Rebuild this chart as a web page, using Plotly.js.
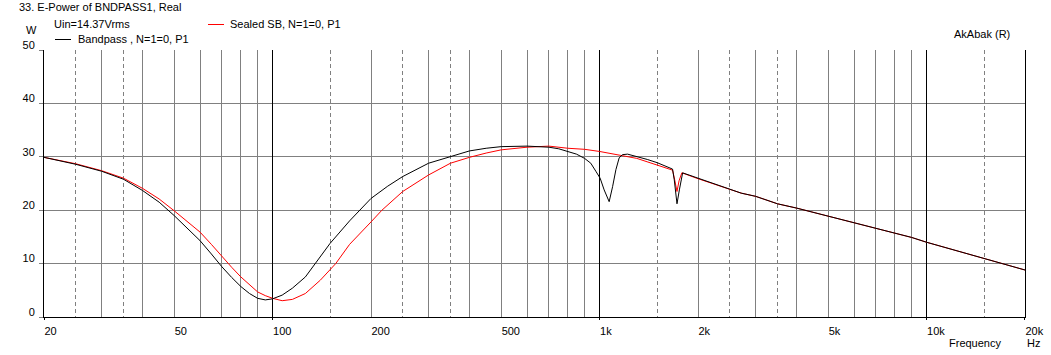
<!DOCTYPE html>
<html>
<head>
<meta charset="utf-8">
<script src="https://cdn.plot.ly/plotly-3.0.1.min.js"></script>
<style>html,body{margin:0;padding:0;background:#fff;}#chart{width:1051px;height:355px;}</style>
</head>
<body>
<div id="chart"></div>
<script>
// ---- data ----
const bandpassFreq = [20,25,30,35,40,45,50,55,60,65,70,75,80,85,90,95,100,107,115,126,135,150,172,200,225,250,300,350,400,450,500,600,700,750,800,850,900,940,974,1004,1033,1070,1096,1122,1148,1175,1218,1276,1400,1500,1600,1672,1692,1725,1754,1795,2000,2500,2710,3000,3500,4000,5000,6000,7000,8000,9000,10000,15000,20000];
const bandpassW    = [29.9,28.6,27.3,25.8,23.7,21.5,19.0,16.6,14.3,11.8,9.4,7.4,5.7,4.4,3.5,3.2,3.4,4.1,5.4,7.5,10.0,13.8,18.0,22.2,24.5,26.3,28.8,30.1,31.1,31.6,31.9,32.0,31.8,31.5,31.0,30.5,29.7,28.8,27.3,26.0,23.8,21.6,24.4,27.6,29.8,30.4,30.5,30.2,29.5,28.9,28.2,27.7,25.7,21.2,23.8,27.0,26.0,23.9,23.2,22.6,21.2,20.4,18.9,17.7,16.7,15.8,14.9,14.0,10.9,8.8];

const sealedFreq = [20,25,30,35,40,45,50,55,60,65,70,75,80,85,90,95,100,107,115,126,140,156,172,200,216,250,300,350,400,450,500,600,700,800,900,1000,1100,1200,1300,1500,1600,1672,1700,1725,1750,1785,2000,2500,2710,3000,3500,4000,5000,6000,7000,8000,9000,10000,15000,20000];
const sealedW    = [29.9,28.7,27.4,26.0,24.1,22.1,19.9,17.9,15.9,13.6,11.3,9.3,7.5,6.0,4.7,4.0,3.5,3.05,3.3,4.4,6.9,10.0,13.6,17.8,20.0,23.5,26.6,28.8,29.9,30.7,31.3,31.8,32.0,31.6,31.4,31.0,30.6,30.1,29.7,28.5,28.0,27.5,25.5,23.5,25.5,27.0,25.9,23.9,23.2,22.6,21.2,20.4,18.9,17.7,16.7,15.8,14.9,14.0,10.9,8.8];

const xLabelVals = [20,50,100,200,500,1000,2000,5000,10000,20000];
const xLabelText = ["20","50","100","200","500","1k","2k","5k","10k","20k"];
const gridMantissas = [1,2,3,4,5,6,7,8,9];
const dashedGrid = [25,35,150,250,350,1500,2500,3500,15000];
const decadeLines = [100,1000,10000];
const edgeTicks = [20,100,1000,10000,20000];
const yTicks = [0,10,20,30,40,50];

// ---- layout helpers ----
const W = 1051, H = 355;
const L = 44, R = 26, T = 50, B = 38;
const pw = W - L - R, ph = H - T - B;
const snap = p => Math.round(p - 0.5) + 0.5;
const px = x => (x - L) / pw;
const py = y => (H - B - y) / ph;
const xMin = Math.log10(20), xMax = Math.log10(20000);
const fx = f => {
  const p = L + (Math.log10(f) - xMin) / (xMax - xMin) * pw;
  return (Math.min(snap(p), L + pw - 0.5) - L) / pw;
};

// grid positions 20..20k
const gridVals = [];
[10,100,1000,10000].forEach(d => gridMantissas.forEach(m => {
  const v = m * d; if (v >= 20 && v <= 20000) gridVals.push(v);
}));
if (gridVals.indexOf(20000) < 0) gridVals.push(20000);
const gridText = gridVals.map(v => { const i = xLabelVals.indexOf(v); return i >= 0 ? xLabelText[i] : ""; });

const font = {family: "Liberation Sans, Arial, sans-serif", size: 11, color: "#000"};

const traces = [
  {x: [], y: [], type: "scatter", mode: "lines", xaxis: "x2", showlegend: false, hoverinfo: "skip"},
  {x: sealedFreq, y: sealedW, type: "scatter", mode: "lines", name: "Sealed SB, N=1=0, P1",
   line: {color: "#ff0000", width: 1}, showlegend: false, hoverinfo: "skip"},
  {x: bandpassFreq, y: bandpassW, type: "scatter", mode: "lines", name: "Bandpass , N=1=0, P1",
   line: {color: "#000000", width: 1}, showlegend: false, hoverinfo: "skip"}
];

// short black ticks below the axis at the decade lines and edges
const shapes = edgeTicks.map(v => ({
  type: "line", xref: "paper", yref: "paper", x0: fx(v), x1: fx(v),
  y0: -3 / ph, y1: 0, line: {color: "#000", width: 1}
}));
// legend samples
shapes.push({type: "line", xref: "paper", yref: "paper", x0: px(208), x1: px(224), y0: py(24.5), y1: py(24.5), line: {color: "#ff0000", width: 1}});
shapes.push({type: "line", xref: "paper", yref: "paper", x0: px(55), x1: px(71), y0: py(39.5), y1: py(39.5), line: {color: "#000", width: 1}});

function ann(text, x, y, anchor) {
  return {text: text, xref: "paper", yref: "paper", x: px(x), y: py(y), xanchor: anchor || "left", yanchor: "middle",
          showarrow: false, font: font, borderpad: 0};
}
const annotations = [
  ann("Uin=14.37Vrms", 53, 24),
  ann("W", 31, 30, "center"),
  ann("Sealed SB, N=1=0, P1", 229, 24),
  ann("Bandpass , N=1=0, P1", 77, 39),
  ann("AkAbak (R)", 953, 34),
  ann("Frequency", 948, 343),
  ann("Hz", 1026, 343)
];

const layout = {
  width: W, height: H,
  margin: {l: L, r: R, t: T, b: B, pad: 0},
  paper_bgcolor: "#fff", plot_bgcolor: "#fff",
  font: font,
  showlegend: false,
  title: {text: "33. E-Power of BNDPASS1, Real", font: font, x: 19 / W, xanchor: "left", xref: "container",
          y: 1 - 7 / H, yanchor: "middle", yref: "container"},
  xaxis: {
    type: "log", range: [xMin, xMax],
    tickmode: "array", tickvals: gridVals, ticktext: gridText,
    ticks: "", showgrid: true, gridcolor: "#808080", gridwidth: 1,
    showline: true, linecolor: "#000", linewidth: 1, zeroline: false,
    ticklabelposition: "outside right", ticklabelstandoff: 4,
    tickfont: font,
    minor: {tickmode: "array", tickvals: dashedGrid, showgrid: true, gridcolor: "#808080", griddash: "4px,3px", gridwidth: 1, ticks: ""}
  },
  xaxis2: {
    type: "log", range: [xMin, xMax], overlaying: "x", anchor: "y", side: "bottom",
    tickmode: "array", tickvals: decadeLines, showticklabels: false, ticks: "",
    showgrid: true, gridcolor: "#000", gridwidth: 1, showline: false, zeroline: false
  },
  yaxis: {
    range: [0, 50], tickmode: "array", tickvals: yTicks,
    ticks: "outside", ticklen: 4, tickcolor: "#808080", tickwidth: 1,
    showgrid: true, gridcolor: "#808080", gridwidth: 1,
    showline: true, linecolor: "#000", linewidth: 1, mirror: true, zeroline: false,
    tickfont: font, ticklabelshift: -5, ticklabelstandoff: 2
  },
  shapes: shapes,
  annotations: annotations
};

Plotly.newPlot("chart", traces, layout, {displayModeBar: false, staticPlot: true});
</script>
</body>
</html>
